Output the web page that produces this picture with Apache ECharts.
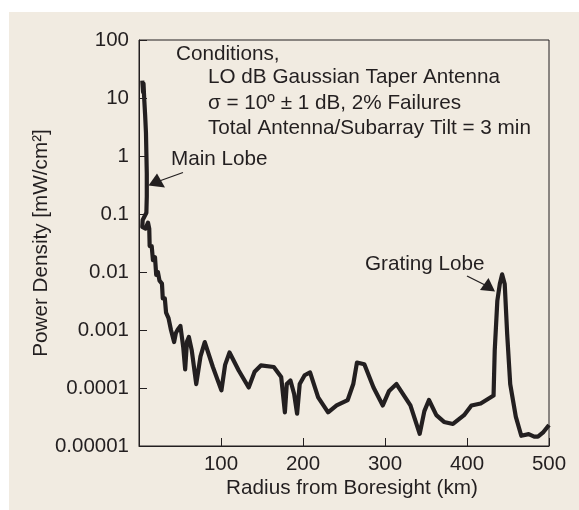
<!DOCTYPE html>
<html>
<head>
<meta charset="utf-8">
<script src="https://cdn.jsdelivr.net/npm/echarts@6/dist/echarts.min.js"></script>
<style>
  html, body { margin: 0; padding: 0; background: #ffffff; }
  #bg { position: absolute; left: 9px; top: 12px; width: 570px; height: 498px; background: #f1ebe1; }
  #chart { position: absolute; left: 0; top: 0; width: 579px; height: 510px; }
</style>
</head>
<body>
<div id="bg"></div>
<div id="chart"></div>
<script>
// Radius from boresight (km)
const radiusKm = [
  4.0, 5.0, 5.5, 6.5, 7.5, 8.5, 9.5, 9.5, 9.0, 4.5,
  4.0, 8.0, 11.0, 12.5, 13.0, 15.5, 17.0, 19.5, 21.0, 23.0,
  25.0, 28.0, 29.0, 31.5, 33.0, 36.0, 39.0, 42.8, 45.0, 47.3,
  50.5, 54.0, 56.3, 58.5, 60.8, 64.4, 69.8, 75.0, 80.2, 90.1,
  100.5, 105.0, 110.4, 121.6, 133.8, 141.0, 148.6, 164.4, 173.4, 177.9,
  180.2, 184.7, 189.2, 192.8, 196.0, 202.0, 208.6, 218.5, 230.6, 241.0,
  254.5, 261.3, 265.8, 274.8, 286.0, 297.3, 305.0, 314.0, 331.0, 342.3,
  348.0, 353.6, 362.6, 372.0, 382.9, 396.4, 405.4, 416.7, 432.4, 433.8,
  437.0, 440.0, 442.8, 446.0, 449.0, 452.7, 459.5, 466.2, 475.2, 482.0,
  486.5, 493.2, 500.0
];
// Power density (mW/cm^2)
const powerDensity = [
  20, 12.6, 17.8, 8.9, 5.0, 2.5, 0.5, 0.2, 0.105, 0.079,
  0.060, 0.056, 0.071, 0.056, 0.028, 0.028, 0.016, 0.018, 0.0089, 0.010,
  0.0071, 0.0063, 0.0035, 0.0035, 0.0020, 0.0016, 0.0010, 0.00062, 0.00089, 0.00102,
  0.00117, 0.00050, 0.00021, 0.00063, 0.00076, 0.00044, 0.000117, 0.00035, 0.00062, 0.00023,
  0.000091, 0.00025, 0.00041, 0.00020, 0.000102, 0.00019, 0.000245, 0.00023, 0.000155, 0.000038,
  0.000117, 0.000135, 0.000079, 0.000036, 0.000117, 0.000166, 0.000186, 0.000069, 0.000038, 0.000050,
  0.000062, 0.000117, 0.000275, 0.000257, 0.000102, 0.000050, 0.000089, 0.000117, 0.000050, 0.0000162,
  0.000040, 0.000062, 0.000034, 0.000026, 0.000024, 0.000034, 0.000050, 0.000054, 0.000074, 0.00044,
  0.0032, 0.0062, 0.0091, 0.0062, 0.00085, 0.000117, 0.000032, 0.000015, 0.000016, 0.0000145,
  0.0000145, 0.0000174, 0.000023
];
const yTickLabels = ['0.00001', '0.0001', '0.001', '0.01', '0.1', '1', '10', '100'];
const xTickLabels = ['', '100', '200', '300', '400', '500'];

const conditionLines = [
  'Conditions,',
  'LO dB Gaussian Taper Antenna',
  'σ = 10º ± 1 dB, 2% Failures',
  'Total Antenna/Subarray Tilt = 3 min'
];

const INK = '#231f20';
const FONT = '"Liberation Sans", Arial, Helvetica, sans-serif';
const FS = 20.7;

const chart = echarts.init(document.getElementById('chart'), null, { renderer: 'canvas' });

const seriesData = radiusKm.map((x, i) => [x, powerDensity[i]]);

function txt(text, x, y) {
  return {
    type: 'text', x: x, y: y, z: 10,
    style: { text: text, fill: INK, font: FS + 'px ' + FONT, textVerticalAlign: 'middle', verticalAlign: 'middle' }
  };
}

const option = {
  backgroundColor: 'transparent',
  animation: false,
  textStyle: { fontFamily: FONT, color: INK },
  grid: {
    left: 139, right: 30, top: 40, bottom: 64,
    show: true, borderColor: INK, borderWidth: 1, backgroundColor: 'transparent'
  },
  xAxis: {
    type: 'value', min: 0, max: 500, interval: 100,
    name: 'Radius from Boresight (km)', nameLocation: 'middle', nameGap: 32,
    nameMoveOverlap: false,
    nameTextStyle: { fontSize: FS, color: INK, fontFamily: FONT, padding: [0, 0, 0, 16] },
    axisLine: { show: true, lineStyle: { color: INK, width: 1 } },
    axisTick: { show: true, inside: true, length: 8, lineStyle: { color: INK } },
    axisLabel: {
      fontSize: 20.5, color: INK, fontFamily: FONT, margin: 8,
      formatter: (v) => xTickLabels[Math.round(v / 100)]
    },
    splitLine: { show: false }
  },
  yAxis: {
    type: 'log', logBase: 10, min: 0.00001, max: 100,
    name: 'Power Density [mW/cm²]', nameLocation: 'middle', nameGap: 87,
    nameMoveOverlap: false,
    nameTextStyle: { fontSize: FS, color: INK, fontFamily: FONT },
    axisLine: { show: true, lineStyle: { color: INK, width: 1 } },
    axisTick: { show: true, inside: true, length: 8, lineStyle: { color: INK } },
    axisLabel: {
      fontSize: 20.5, color: INK, fontFamily: FONT, margin: 10,
      formatter: (v) => yTickLabels[Math.round(Math.log10(v)) + 5]
    },
    splitLine: { show: false }
  },
  series: [{
    type: 'line',
    data: seriesData,
    showSymbol: false,
    symbol: 'none',
    lineStyle: { color: INK, width: 4.2, join: 'round' },
    z: 5
  }],
  graphic: [
    txt(conditionLines[0], 176, 54),
    txt(conditionLines[1], 208, 77),
    txt(conditionLines[2], 208, 103),
    txt(conditionLines[3], 208, 128),
    txt('Main Lobe', 171, 159),
    txt('Grating Lobe', 365, 264),
    // Main lobe arrow
    { type: 'line', z: 10, shape: { x1: 183, y1: 172.5, x2: 158, y2: 181.5 }, style: { stroke: INK, lineWidth: 1.3 } },
    { type: 'polygon', z: 10, shape: { points: [[148.5, 185.5], [157, 173.5], [165, 187.5]] }, style: { fill: INK } },
    // Grating lobe arrow
    { type: 'line', z: 10, shape: { x1: 467, y1: 276, x2: 485, y2: 285 }, style: { stroke: INK, lineWidth: 1.3 } },
    { type: 'polygon', z: 10, shape: { points: [[495, 291.5], [480, 290], [488.5, 278]] }, style: { fill: INK } }
  ]
};

chart.setOption(option);
</script>
</body>
</html>
